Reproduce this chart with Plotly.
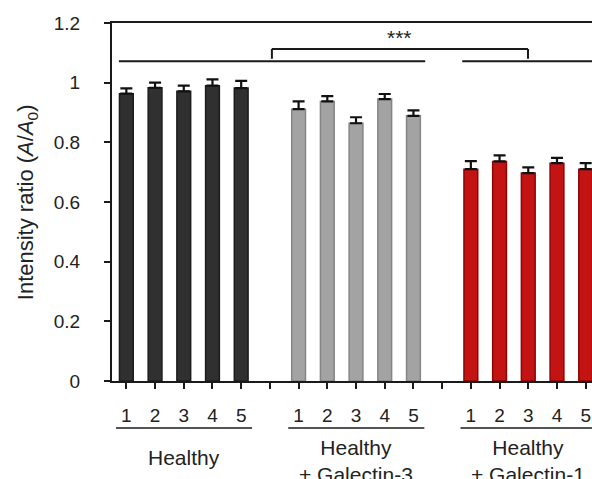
import plotly.graph_objects as go

# Intensity ratio A/A0 for five samples in each condition
samples = ["1", "2", "3", "4", "5"]
healthy = [0.963, 0.983, 0.971, 0.990, 0.982]
healthy_err = [0.018, 0.017, 0.019, 0.021, 0.024]
gal3 = [0.911, 0.937, 0.864, 0.945, 0.889]
gal3_err = [0.026, 0.018, 0.020, 0.017, 0.018]
gal1 = [0.710, 0.736, 0.697, 0.730, 0.710]
gal1_err = [0.027, 0.020, 0.019, 0.018, 0.020]

group_names = ["Healthy", "Healthy<br>+ Galectin-3", "Healthy<br>+ Galectin-1"]
group_fill = ["#303030", "#a3a3a3", "#c31313"]
group_edge = ["#1c1c1c", "#858585", "#8c0606"]

groups = [(healthy, healthy_err), (gal3, gal3_err), (gal1, gal1_err)]
slot = len(samples) + 1  # five bars plus one empty slot between groups

fig = go.Figure()
tickvals, ticktext = [], []
for g, ((vals, errs), fill, edge) in enumerate(zip(groups, group_fill, group_edge)):
    xs = [g * slot + i for i in range(len(samples))]
    fig.add_trace(go.Bar(
        x=xs, y=vals, width=0.48,
        marker=dict(color=fill, line=dict(width=1.5, color=edge)),
        error_y=dict(type="data", array=errs, arrayminus=[0] * len(errs),
                     symmetric=False, color="#111111", thickness=2.2, width=6),
        showlegend=False,
    ))
    tickvals += xs
    ticktext += samples
    if g < len(groups) - 1:
        tickvals.append(g * slot + len(samples))
        ticktext.append("")

x_max = 16.22
font = "Liberation Sans, Arial, sans-serif"

shapes = []
line = dict(color="#1a1a1a", width=2)
# significance bars above the groups
shapes.append(dict(type="line", xref="x", yref="y", x0=-0.26, x1=10.41, y0=1.072, y1=1.072, line=line))
shapes.append(dict(type="line", xref="x", yref="y", x0=11.7, x1=x_max, y0=1.072, y1=1.072, line=line))
shapes.append(dict(type="line", xref="x", yref="y", x0=5.07, x1=13.99, y0=1.113, y1=1.113, line=line))
shapes.append(dict(type="line", xref="x", yref="y", x0=5.07, x1=5.07, y0=1.113, y1=1.08, line=line))
shapes.append(dict(type="line", xref="x", yref="y", x0=13.99, x1=13.99, y0=1.113, y1=1.08, line=line))
# underline beneath each group's sample numbers
for g in range(len(groups)):
    x0 = g * slot - 0.36
    x1 = g * slot + len(samples) - 0.62 if g < len(groups) - 1 else 17.5
    shapes.append(dict(type="line", xref="x", yref="paper", x0=x0, x1=x1,
                       y0=-0.131, y1=-0.131, line=dict(color="#1a1a1a", width=1.5)))

annotations = [
    dict(x=9.53, y=1.152, xref="x", yref="y", text="***", showarrow=False,
         font=dict(size=21, color="#222222", family=font)),
    dict(x=-0.21, y=0.5, xref="paper", yref="paper", textangle=-90,
         text="Intensity ratio (<i>A</i>/<i>A</i><sub>0</sub>)", showarrow=False,
         font=dict(size=22, color="#222222", family=font)),
]
label_y = [-0.214, -0.224, -0.224]
for g, name in enumerate(group_names):
    annotations.append(dict(x=g * slot + 2, y=label_y[g], xref="x", yref="paper",
                            text=name, showarrow=False, yanchor="middle",
                            font=dict(size=21, color="#222222", family=font)))

fig.update_layout(
    width=592, height=479,
    margin=dict(l=112, r=0, t=23, b=98),
    paper_bgcolor="white", plot_bgcolor="white",
    barmode="overlay",
    font=dict(family=font, color="#222222"),
    shapes=shapes, annotations=annotations,
    xaxis=dict(range=[-0.5, x_max], tickvals=tickvals, ticktext=ticktext,
               showgrid=False, zeroline=False, showline=True, mirror=True,
               linecolor="#1a1a1a", linewidth=2, ticks="outside", ticklen=6,
               tickwidth=1.5, tickcolor="#1a1a1a", ticklabelstandoff=10,
               tickfont=dict(size=19, color="#222222")),
    yaxis=dict(range=[0, 1.2], tickvals=[0, 0.2, 0.4, 0.6, 0.8, 1.0, 1.2],
               ticktext=["0", "0.2", "0.4", "0.6", "0.8", "1", "1.2"],
               showgrid=False, zeroline=False, showline=True,
               linecolor="#1a1a1a", linewidth=2, ticks="outside", ticklen=6,
               tickwidth=1.5, tickcolor="#1a1a1a", ticklabelstandoff=20,
               tickfont=dict(size=19, color="#222222")),
)

fig.write_html("out.html")
